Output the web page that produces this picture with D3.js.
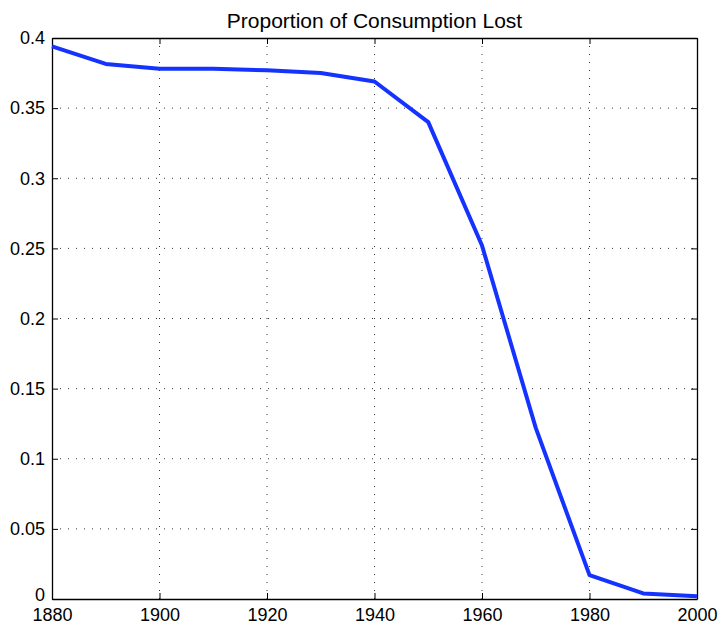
<!DOCTYPE html>
<html>
<head>
<meta charset="UTF-8">
<style>
  body { margin: 0; background: #fff; }
  svg { font-family: "Liberation Sans", Arial, Helvetica, sans-serif; }
</style>
</head>
<body>
<svg width="722" height="628"></svg>
<script src="https://d3js.org/d3.v7.min.js"></script>
<script>
  const years = [1880, 1890, 1900, 1910, 1920, 1930, 1940, 1950, 1960, 1970, 1980, 1990, 2000];
  const lost = [0.394, 0.3815, 0.378, 0.378, 0.377, 0.375, 0.369, 0.340, 0.252, 0.122, 0.017, 0.004, 0.002];
  const xTicks = [1880, 1900, 1920, 1940, 1960, 1980, 2000];
  const yTicks = [0, 0.05, 0.1, 0.15, 0.2, 0.25, 0.3, 0.35, 0.4];

  const svg = d3.select("svg");
  const margin = {top: 38, right: 25, bottom: 29, left: 52};
  const width = 722 - margin.left - margin.right;
  const height = 628 - margin.top - margin.bottom;
  const g = svg.append("g").attr("transform", `translate(${margin.left},${margin.top})`);

  const x = d3.scaleLinear().domain([1880, 2000]).range([0, width]);
  const y = d3.scaleLinear().domain([0, 0.4]).range([height, 0]);

  // dotted grid
  g.selectAll("line.gx").data(xTicks.slice(1, -1)).enter().append("line")
    .attr("x1", d => x(d)).attr("x2", d => x(d))
    .attr("y1", 0).attr("y2", height)
    .attr("stroke", "#333").attr("stroke-width", 1).attr("stroke-dasharray", "1,7");
  g.selectAll("line.gy").data(yTicks.slice(1, -1)).enter().append("line")
    .attr("y1", d => y(d)).attr("y2", d => y(d))
    .attr("x1", 0).attr("x2", width)
    .attr("stroke", "#333").attr("stroke-width", 1).attr("stroke-dasharray", "1,7");

  // axes with inward ticks
  const fmtY = d => d === 0 ? "0" : String(+d.toFixed(2));
  const ax = g.append("g").attr("transform", `translate(0,${height})`)
    .call(d3.axisBottom(x).tickValues(xTicks).tickFormat(d3.format("d")).tickSizeInner(-6).tickSizeOuter(0).tickPadding(9));
  const ay = g.append("g")
    .call(d3.axisLeft(y).tickValues(yTicks).tickFormat(fmtY).tickSizeInner(-6).tickSizeOuter(0).tickPadding(7));
  const at = g.append("g")
    .call(d3.axisTop(x).tickValues(xTicks).tickFormat("").tickSizeInner(-6).tickSizeOuter(0));
  const ar = g.append("g").attr("transform", `translate(${width},0)`)
    .call(d3.axisRight(y).tickValues(yTicks).tickFormat("").tickSizeInner(-6).tickSizeOuter(0));

  [ax, ay, at, ar].forEach(a => {
    a.select(".domain").attr("stroke", "#000").attr("stroke-width", 1.3);
    a.selectAll(".tick line").attr("stroke", "#000");
    a.selectAll(".tick text").attr("font-size", 18).attr("fill", "#000")
      .attr("font-family", "'Liberation Sans', Arial, sans-serif");
  });
  // nudge the "0" label up so it sits clear of "1880"
  ay.selectAll(".tick text").filter(d => d === 0).attr("dy", "0.1em");

  // line
  const line = d3.line().x((d, i) => x(years[i])).y(d => y(d));
  g.append("path").datum(lost)
    .attr("d", line)
    .attr("fill", "none")
    .attr("stroke", "#1433ff")
    .attr("stroke-width", 4)
    .attr("stroke-linejoin", "round");

  svg.append("text")
    .attr("x", margin.left + width / 2).attr("y", 28)
    .attr("text-anchor", "middle")
    .attr("font-size", 21).attr("fill", "#000")
    .text("Proportion of Consumption Lost");
</script>
</body>
</html>
